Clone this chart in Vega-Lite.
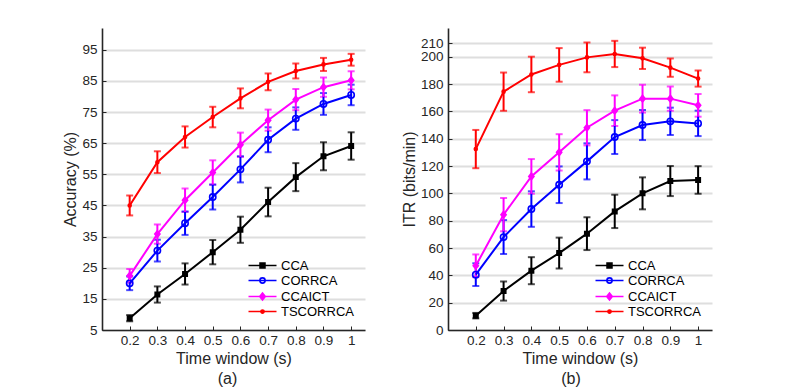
{
  "$schema": "https://vega.github.io/schema/vega-lite/v6.json",
  "padding": {"left": 62, "top": 28, "right": 5, "bottom": 0},
  "spacing": 36,
  "config": {
    "font": "Liberation Sans",
    "view": {"stroke": null},
    "axis": {
      "domainColor": "#262626", "domainWidth": 1.6,
      "tickColor": "#262626", "tickSize": -4, "tickWidth": 1,
      "labelColor": "#262626", "labelFontSize": 13.5, "labelOverlap": false, "labelFlush": false,
      "titleColor": "#262626", "titleFontSize": 16, "titleFontWeight": "normal",
      "gridColor": "#dedede", "gridWidth": 2
    },
    "legend": {"title": null, "orient": "bottom-right", "offset": 11, "padding": 0, "labelFontSize": 13, "labelColor": "#000000", "labelOffset": 12, "symbolSize": 49, "symbolStrokeWidth": 1.6, "rowPadding": 1, "symbolOpacity": 1},
    "title": {"fontSize": 16, "fontWeight": "normal", "color": "#262626"}
  },
  "datasets": {
    "acc": [
      {"t": 0.2, "method": "CCA", "v": 8.8, "e": 1.0},
      {"t": 0.3, "method": "CCA", "v": 16.4, "e": 2.6},
      {"t": 0.4, "method": "CCA", "v": 23.0, "e": 3.4},
      {"t": 0.5, "method": "CCA", "v": 30.0, "e": 3.9},
      {"t": 0.6, "method": "CCA", "v": 37.2, "e": 4.2},
      {"t": 0.7, "method": "CCA", "v": 46.1, "e": 4.6},
      {"t": 0.8, "method": "CCA", "v": 54.1, "e": 4.5},
      {"t": 0.9, "method": "CCA", "v": 60.8, "e": 4.5},
      {"t": 1.0, "method": "CCA", "v": 64.1, "e": 4.4},
      {"t": 0.2, "method": "CORRCA", "v": 20.0, "e": 2.2},
      {"t": 0.3, "method": "CORRCA", "v": 30.5, "e": 3.5},
      {"t": 0.4, "method": "CORRCA", "v": 39.3, "e": 3.75},
      {"t": 0.5, "method": "CORRCA", "v": 47.7, "e": 4.0},
      {"t": 0.6, "method": "CORRCA", "v": 56.6, "e": 4.2},
      {"t": 0.7, "method": "CORRCA", "v": 66.1, "e": 4.0},
      {"t": 0.8, "method": "CORRCA", "v": 72.9, "e": 3.6},
      {"t": 0.9, "method": "CORRCA", "v": 77.6, "e": 3.5},
      {"t": 1.0, "method": "CORRCA", "v": 80.5, "e": 3.3},
      {"t": 0.2, "method": "CCAICT", "v": 22.4, "e": 2.2},
      {"t": 0.3, "method": "CCAICT", "v": 35.8, "e": 3.1},
      {"t": 0.4, "method": "CCAICT", "v": 46.7, "e": 3.75},
      {"t": 0.5, "method": "CCAICT", "v": 55.6, "e": 3.9},
      {"t": 0.6, "method": "CCAICT", "v": 64.5, "e": 3.9},
      {"t": 0.7, "method": "CCAICT", "v": 72.4, "e": 3.4},
      {"t": 0.8, "method": "CCAICT", "v": 79.0, "e": 3.4},
      {"t": 0.9, "method": "CCAICT", "v": 83.0, "e": 3.1},
      {"t": 1.0, "method": "CCAICT", "v": 85.2, "e": 2.9},
      {"t": 0.2, "method": "TSCORRCA", "v": 45.0, "e": 3.2},
      {"t": 0.3, "method": "TSCORRCA", "v": 58.9, "e": 3.5},
      {"t": 0.4, "method": "TSCORRCA", "v": 67.0, "e": 3.4},
      {"t": 0.5, "method": "TSCORRCA", "v": 73.4, "e": 3.3},
      {"t": 0.6, "method": "TSCORRCA", "v": 79.4, "e": 3.2},
      {"t": 0.7, "method": "TSCORRCA", "v": 84.7, "e": 2.7},
      {"t": 0.8, "method": "TSCORRCA", "v": 88.2, "e": 2.4},
      {"t": 0.9, "method": "TSCORRCA", "v": 90.3, "e": 2.1},
      {"t": 1.0, "method": "TSCORRCA", "v": 91.8, "e": 1.9}
    ],
    "itr": [
      {"t": 0.2, "method": "CCA", "v": 10.5, "e": 2.0},
      {"t": 0.3, "method": "CCA", "v": 28.5, "e": 7.0},
      {"t": 0.4, "method": "CCA", "v": 43.4, "e": 9.9},
      {"t": 0.5, "method": "CCA", "v": 56.3, "e": 11.3},
      {"t": 0.6, "method": "CCA", "v": 70.5, "e": 12.0},
      {"t": 0.7, "method": "CCA", "v": 86.8, "e": 12.2},
      {"t": 0.8, "method": "CCA", "v": 100.0, "e": 11.7},
      {"t": 0.9, "method": "CCA", "v": 109.0, "e": 11.0},
      {"t": 1.0, "method": "CCA", "v": 109.8, "e": 10.1},
      {"t": 0.2, "method": "CORRCA", "v": 40.5, "e": 8.3},
      {"t": 0.3, "method": "CORRCA", "v": 68.0, "e": 12.4},
      {"t": 0.4, "method": "CORRCA", "v": 88.5, "e": 13.0},
      {"t": 0.5, "method": "CORRCA", "v": 106.3, "e": 13.4},
      {"t": 0.6, "method": "CORRCA", "v": 123.4, "e": 13.2},
      {"t": 0.7, "method": "CORRCA", "v": 141.2, "e": 12.4},
      {"t": 0.8, "method": "CORRCA", "v": 150.0, "e": 11.0},
      {"t": 0.9, "method": "CORRCA", "v": 152.7, "e": 10.0},
      {"t": 1.0, "method": "CORRCA", "v": 151.2, "e": 9.3},
      {"t": 0.2, "method": "CCAICT", "v": 47.0, "e": 8.3},
      {"t": 0.3, "method": "CCAICT", "v": 84.4, "e": 12.2},
      {"t": 0.4, "method": "CCAICT", "v": 112.4, "e": 12.7},
      {"t": 0.5, "method": "CCAICT", "v": 130.0, "e": 13.3},
      {"t": 0.6, "method": "CCAICT", "v": 148.0, "e": 12.9},
      {"t": 0.7, "method": "CCAICT", "v": 160.5, "e": 11.2},
      {"t": 0.8, "method": "CCAICT", "v": 169.3, "e": 10.2},
      {"t": 0.9, "method": "CCAICT", "v": 169.3, "e": 8.9},
      {"t": 1.0, "method": "CCAICT", "v": 164.4, "e": 8.3},
      {"t": 0.2, "method": "TSCORRCA", "v": 132.4, "e": 14.0},
      {"t": 0.3, "method": "TSCORRCA", "v": 174.4, "e": 14.0},
      {"t": 0.4, "method": "TSCORRCA", "v": 187.0, "e": 13.0},
      {"t": 0.5, "method": "TSCORRCA", "v": 194.0, "e": 12.3},
      {"t": 0.6, "method": "TSCORRCA", "v": 199.5, "e": 10.9},
      {"t": 0.7, "method": "TSCORRCA", "v": 202.0, "e": 9.6},
      {"t": 0.8, "method": "TSCORRCA", "v": 198.8, "e": 7.8},
      {"t": 0.9, "method": "TSCORRCA", "v": 192.0, "e": 6.7},
      {"t": 1.0, "method": "TSCORRCA", "v": 184.0, "e": 5.9}
    ]
  },
  "hconcat": [
    {
      "width": 263, "height": 302,
      "data": {"name": "acc"},
      "title": {"text": "(a)", "orient": "bottom", "offset": 4, "dx": -6},
      "encoding": {
        "x": {"field": "t", "type": "quantitative", "scale": {"domain": [0.1, 1.05], "nice": false, "zero": false},
              "axis": {"title": "Time window (s)", "values": [0.1, 0.2, 0.3, 0.4, 0.5, 0.6, 0.7, 0.8, 0.9, 1.0], "format": "~g",
                       "labelExpr": "datum.value < 0.15 ? '' : datum.label", "grid": false, "labelPadding": 7, "titlePadding": 4}},
        "y": {"field": "v", "type": "quantitative", "scale": {"domain": [5, 102], "nice": false, "zero": false},
              "axis": {"title": "Accuracy (%)", "values": [5, 15, 25, 35, 45, 55, 65, 75, 85, 95], "grid": true, "labelPadding": 9, "titlePadding": 3}}
      },
      "layer": [
        {"mark": {"type": "errorbar", "ticks": true, "size": 7, "thickness": 2},
         "encoding": {"yError": {"field": "e"},
                      "color": {"field": "method", "type": "nominal", "scale": {"domain": ["CCA", "CORRCA", "CCAICT", "TSCORRCA"], "range": ["#000000", "#0000ff", "#ff00ff", "#ff0000"]}, "legend": null}}},
        {"mark": {"type": "line", "strokeWidth": 2},
         "encoding": {"color": {"field": "method", "type": "nominal", "scale": {"domain": ["CCA", "CORRCA", "CCAICT", "TSCORRCA"], "range": ["#000000", "#0000ff", "#ff00ff", "#ff0000"]}, "legend": null}}},
        {"mark": {"type": "point", "filled": false, "opacity": 1, "strokeWidth": 1.6, "size": 30},
         "encoding": {"color": {"field": "method", "type": "nominal", "scale": {"domain": ["CCA", "CORRCA", "CCAICT", "TSCORRCA"], "range": ["#000000", "#0000ff", "#ff00ff", "#ff0000"]}, "legend": null},
                      "fill": {"field": "method", "type": "nominal", "scale": {"domain": ["CCA", "CORRCA", "CCAICT", "TSCORRCA"], "range": ["#000000", "transparent", "#ff00ff", "#ff0000"]}, "legend": null},
                      "shape": {"field": "method", "type": "nominal", "scale": {"domain": ["CCA", "CORRCA", "CCAICT", "TSCORRCA"], "range": ["M-0.8,-0.8H0.8V0.8H-0.8Z", "M1.15,0A1.15,1.15,0,1,1,-1.15,0A1.15,1.15,0,1,1,1.15,0Z", "M0,-1.2L0.95,0L0,1.2L-0.95,0Z", "M0.55,0A0.55,0.55,0,1,1,-0.55,0A0.55,0.55,0,1,1,0.55,0Z"]}, "legend": null}}},
        {"mark": {"type": "point", "filled": false, "opacity": 0},
         "encoding": {
           "color": {"field": "method", "type": "nominal", "scale": {"domain": ["CCA", "CORRCA", "CCAICT", "TSCORRCA"], "range": ["#000000", "#0000ff", "#ff00ff", "#ff0000"]}, "legend": {}},
           "shape": {"field": "method", "type": "nominal", "scale": {"domain": ["CCA", "CORRCA", "CCAICT", "TSCORRCA"], "range": ["M-4,0H4M-0.7,-0.7H0.7V0.7H-0.7ZM-0.3,-0.3H0.3V0.3H-0.3Z", "M-4,0H4M0.75,0A0.75,0.75,0,1,1,-0.75,0A0.75,0.75,0,1,1,0.75,0Z", "M-4,0H4M0,-1L0.8,0L0,1L-0.8,0ZM0,-0.45L0.36,0L0,0.45L-0.36,0Z", "M-4,0H4M0.45,0A0.45,0.45,0,1,1,-0.45,0A0.45,0.45,0,1,1,0.45,0Z"]},
                     "legend": {}}
         }}
      ],
      "resolve": {"scale": {"color": "independent", "fill": "independent", "shape": "independent"}}
    },
    {
      "width": 264, "height": 302,
      "data": {"name": "itr"},
      "title": {"text": "(b)", "orient": "bottom", "offset": 4, "dx": -9},
      "encoding": {
        "x": {"field": "t", "type": "quantitative", "scale": {"domain": [0.1, 1.05], "nice": false, "zero": false},
              "axis": {"title": "Time window (s)", "values": [0.1, 0.2, 0.3, 0.4, 0.5, 0.6, 0.7, 0.8, 0.9, 1.0], "format": "~g",
                       "labelExpr": "datum.value < 0.15 ? '' : datum.label", "grid": false, "labelPadding": 7, "titlePadding": 4}},
        "y": {"field": "v", "type": "quantitative", "scale": {"domain": [0, 221], "nice": false, "zero": false},
              "axis": {"title": "ITR (bits/min)", "values": [0, 20, 40, 60, 80, 100, 120, 140, 160, 180, 200, 210], "grid": true, "labelPadding": 9, "titlePadding": 3}}
      },
      "layer": [
        {"mark": {"type": "errorbar", "ticks": true, "size": 7, "thickness": 2},
         "encoding": {"yError": {"field": "e"},
                      "color": {"field": "method", "type": "nominal", "scale": {"domain": ["CCA", "CORRCA", "CCAICT", "TSCORRCA"], "range": ["#000000", "#0000ff", "#ff00ff", "#ff0000"]}, "legend": null}}},
        {"mark": {"type": "line", "strokeWidth": 2},
         "encoding": {"color": {"field": "method", "type": "nominal", "scale": {"domain": ["CCA", "CORRCA", "CCAICT", "TSCORRCA"], "range": ["#000000", "#0000ff", "#ff00ff", "#ff0000"]}, "legend": null}}},
        {"mark": {"type": "point", "filled": false, "opacity": 1, "strokeWidth": 1.6, "size": 30},
         "encoding": {"color": {"field": "method", "type": "nominal", "scale": {"domain": ["CCA", "CORRCA", "CCAICT", "TSCORRCA"], "range": ["#000000", "#0000ff", "#ff00ff", "#ff0000"]}, "legend": null},
                      "fill": {"field": "method", "type": "nominal", "scale": {"domain": ["CCA", "CORRCA", "CCAICT", "TSCORRCA"], "range": ["#000000", "transparent", "#ff00ff", "#ff0000"]}, "legend": null},
                      "shape": {"field": "method", "type": "nominal", "scale": {"domain": ["CCA", "CORRCA", "CCAICT", "TSCORRCA"], "range": ["M-0.8,-0.8H0.8V0.8H-0.8Z", "M1.15,0A1.15,1.15,0,1,1,-1.15,0A1.15,1.15,0,1,1,1.15,0Z", "M0,-1.2L0.95,0L0,1.2L-0.95,0Z", "M0.55,0A0.55,0.55,0,1,1,-0.55,0A0.55,0.55,0,1,1,0.55,0Z"]}, "legend": null}}},
        {"mark": {"type": "point", "filled": false, "opacity": 0},
         "encoding": {
           "color": {"field": "method", "type": "nominal", "scale": {"domain": ["CCA", "CORRCA", "CCAICT", "TSCORRCA"], "range": ["#000000", "#0000ff", "#ff00ff", "#ff0000"]}, "legend": {}},
           "shape": {"field": "method", "type": "nominal", "scale": {"domain": ["CCA", "CORRCA", "CCAICT", "TSCORRCA"], "range": ["M-4,0H4M-0.7,-0.7H0.7V0.7H-0.7ZM-0.3,-0.3H0.3V0.3H-0.3Z", "M-4,0H4M0.75,0A0.75,0.75,0,1,1,-0.75,0A0.75,0.75,0,1,1,0.75,0Z", "M-4,0H4M0,-1L0.8,0L0,1L-0.8,0ZM0,-0.45L0.36,0L0,0.45L-0.36,0Z", "M-4,0H4M0.45,0A0.45,0.45,0,1,1,-0.45,0A0.45,0.45,0,1,1,0.45,0Z"]},
                     "legend": {}}
         }}
      ],
      "resolve": {"scale": {"color": "independent", "fill": "independent", "shape": "independent"}}
    }
  ]
}
